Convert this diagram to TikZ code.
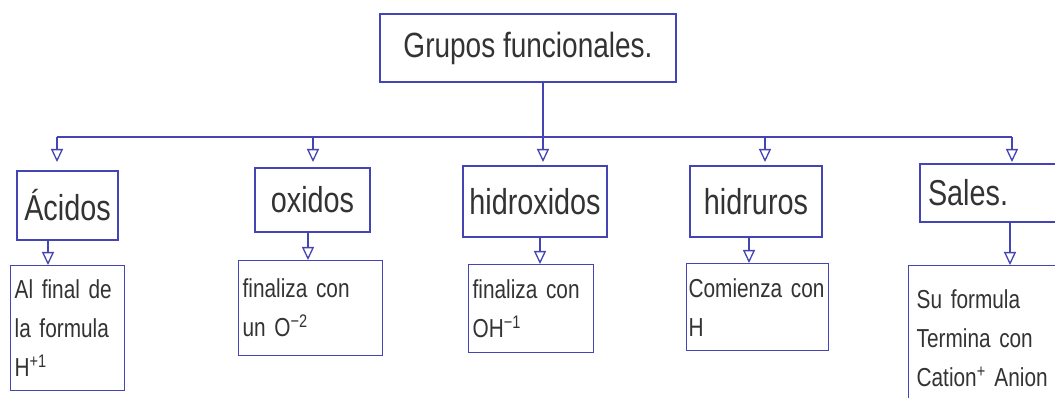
\documentclass[tikz,border=0pt]{standalone}
\usepackage{fontspec}
\newfontfamily\hand{Liberation Sans}[FakeStretch=0.8]
\usetikzlibrary{positioning,arrows.meta}
\definecolor{GBlue}{HTML}{4444B4}
\definecolor{GInk}{HTML}{333333}

\begin{document}
\begin{tikzpicture}[x=1pt,y=-1pt,
  every node/.style={text=GInk},
  gbox/.style={draw=GBlue, line width=1.3pt, inner sep=4pt},
  ghead/.style={gbox, font=\hand\fontsize{36}{40}\selectfont},
  gnote/.style={gbox, anchor=north west, align=left, font=\hand\fontsize{26}{39}\selectfont},
  glink/.style={draw=GBlue, line width=1.3pt},
  garrow/.style={glink, -{Triangle[open, length=13pt, width=12pt]}}]
  \useasboundingbox (0,0) rectangle (1055,398);
  \fill[white] (0,0) rectangle (1055,398);

  % title
  \node[gbox, minimum width=296pt, minimum height=68pt, font=\hand\fontsize{35}{40}\selectfont] (title) at (528,48) {Grupos funcionales.};

  % groups
  \node[ghead, minimum width=101pt, minimum height=69pt] (acid) at (67.5,205.5) {Ácidos};
  \node[ghead, minimum width=115pt, minimum height=64pt] (oxid) at (312.5,200) {oxidos};
  \node[ghead, minimum width=144pt, minimum height=71pt] (hidrox) at (535,201.5) {hidroxidos};
  \node[ghead, minimum width=132pt, minimum height=71pt] (hidrur) at (756,201.5) {hidruros};
  \node[ghead, minimum height=58pt, text width=126pt, inner xsep=8pt, align=left] (sales) at (991,193) {Sales.};

  % notes
  \node[gnote, text width=106pt, minimum height=125pt] (acidn) at (10,265) {Al final de\\la formula\\H\textsuperscript{+1}};
  \node[gnote, text width=136pt, minimum height=95pt] (oxidn) at (238,260) {finaliza con\\un O\textsuperscript{−2}};
  \node[gnote, text width=117pt, minimum height=88pt] (hidroxn) at (468,264) {finaliza con\\OH\textsuperscript{−1}};
  \node[gnote, text width=138pt, inner xsep=2pt, minimum height=87pt] (hidrurn) at (686,263) {Comienza~con\\H};
  \node[gnote, text width=139pt, inner xsep=8pt, minimum height=145pt] (salesn) at (908,265) {Su formula\\Termina con\\Cation\textsuperscript{+} Anion};

  % bus
  \coordinate (bus) at (543,137);
  \coordinate (tips) at (0,162);
  \coordinate (dA) at (57,137);
  \coordinate (dO) at (313,137);
  \coordinate (dR) at (765,137);
  \coordinate (dS) at (1012,137);
  \draw[glink] (title.south -| bus) -- (bus);
  \draw[glink] (dA) -- (dS);
  \foreach \d in {dA,dO,bus,dR,dS}
    \draw[garrow] (\d) -- (\d |- tips);

  % group to note
  \draw[garrow] ([xshift=-19.5pt]acid.south) -- ([xshift=-19.5pt]acid.south |- acidn.north);
  \draw[garrow] ([xshift=-4.5pt]oxid.south) -- ([xshift=-4.5pt]oxid.south |- oxidn.north);
  \draw[garrow] ([xshift=5pt]hidrox.south) -- ([xshift=5pt]hidrox.south |- hidroxn.north);
  \draw[garrow] ([xshift=-7pt]hidrur.south) -- ([xshift=-7pt]hidrur.south |- hidrurn.north);
  \draw[garrow] ([xshift=19pt]sales.south) -- ([xshift=19pt]sales.south |- salesn.north);
\end{tikzpicture}
\end{document}
